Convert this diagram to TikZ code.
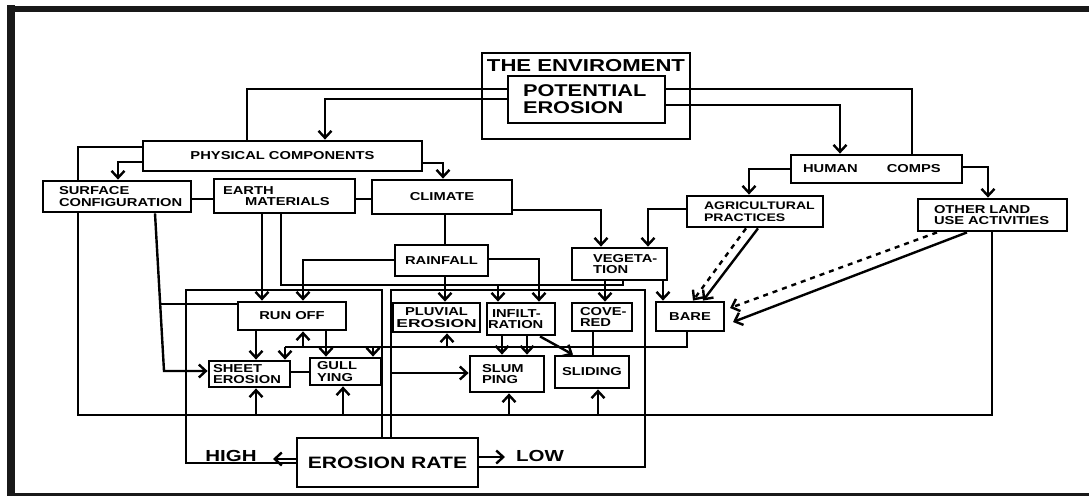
\documentclass[tikz,border=0pt]{standalone}
\usepackage{fontspec}
\newfontfamily\lab{Liberation Sans}[FakeStretch=1.28]
\usetikzlibrary{arrows.meta}
\pgfdeclarelayer{bg}
\pgfsetlayers{bg,main}
\newcommand\smlab{\lab\bfseries\fontsize{11.5}{11.5}\selectfont}
\newcommand\bglab{\lab\bfseries\fontsize{17.3}{17}\selectfont}
\begin{document}
\begin{tikzpicture}[x=1pt,y=-1pt,
  box/.style={draw, line width=2.8pt, fill=white, inner sep=0pt, font=\smlab},
  cb/.style 2 args={box, minimum width=#1pt, minimum height=#2pt, align=center},
  lb/.style 2 args={box, minimum width=#1pt, minimum height=#2pt, text width=#1pt, align=left},
  conn/.style={line width=2.4pt},
  arr/.style={conn, -{Straight Barb[length=7pt,width=13pt]}},
  dot/.style={dash pattern=on 5pt off 5pt},
  frame/.style={line width=#1, black!90},
]
\useasboundingbox (0,0) rectangle (1089,496);
% frame
\draw[frame=6pt] (7,9) -- (1089,9);
\draw[frame=8pt] (11,5) -- (11,496);
\draw[frame=3pt] (7,494.5) -- (1089,494.5);

% nodes
\node[draw, line width=2.8pt, minimum width=208pt, minimum height=86pt, inner sep=0pt] (env) at (586,96) {};
\node[font=\bglab, inner sep=0pt] (envt) at (586,66) {THE ENVIROMENT};
\node[lb={157}{47}, font=\lab\bfseries\fontsize{17}{17}\selectfont] (pe) at (586.5,99.5) {\hspace*{15pt}POTENTIAL\\\hspace*{15pt}EROSION};
\node[cb={279}{30}] (pc) at (282.5,156) {PHYSICAL COMPONENTS};
\node[lb={148}{31}] (sc) at (117,196.5) {\hspace*{16pt}SURFACE\\\hspace*{16pt}CONFIGURATION};
\node[lb={141}{34}] (em) at (284.5,196) {\hspace*{9pt}EARTH\\\hspace*{31pt}MATERIALS};
\node[cb={140}{34}] (cl) at (442,197) {CLIMATE};
\node[cb={93}{31}] (rf) at (441.5,260.5) {RAINFALL};
\node[lb={95}{32}] (veg) at (619.5,264) {\hspace*{21pt}VEGETA-\\\hspace*{21pt}TION};
\node[lb={171}{28}] (hc) at (876.5,169) {\hspace*{12pt}HUMAN\hspace{29pt}COMPS};
\node[lb={136}{31}, font=\lab\bfseries\fontsize{11}{11.5}\selectfont] (agri) at (755,211.5) {\hspace*{17pt}AGRICULTURAL\\\hspace*{17pt}PRACTICES};
\node[lb={149}{32}] (olu) at (992.5,215) {\hspace*{16pt}OTHER LAND\\\hspace*{16pt}USE ACTIVITIES};
\node[cb={68}{29}] (bare) at (690,316.5) {BARE};
\node[cb={108}{28}] (ro) at (292,316) {RUN OFF};
\node[cb={87}{29}] (pl) at (436.5,317.5) {PLUVIAL\\\scalebox{1.18}[1]{EROSION}};
\node[lb={68}{32}] (inf) at (521,319) {\hspace*{5pt}INFILT-\\\hspace*{1pt}RATION};
\node[lb={60}{28}] (cov) at (602,317) {\hspace*{8pt}COVE-\\\hspace*{8pt}RED};
\node[lb={81}{26}] (sh) at (249.5,374) {\hspace*{4pt}SHEET\\\hspace*{4pt}EROSION};
\node[lb={71}{27}] (gu) at (345.5,371.5) {\hspace*{7pt}GULL\\\hspace*{7pt}YING};
\node[lb={74}{36}] (sl) at (507,374) {\hspace*{12pt}SLUM\\\hspace*{12pt}PING};
\node[cb={74}{32}] (sd) at (592,372) {SLIDING};
\node[cb={181}{49}, font=\lab\bfseries\fontsize{16.5}{16.5}\selectfont] (er) at (387.5,462.5) {EROSION RATE};
\node[font=\lab\bfseries\fontsize{16}{16}\selectfont, inner sep=0pt] (high) at (231,456) {HIGH};
\node[font=\lab\bfseries\fontsize{16}{16}\selectfont, inner sep=0pt] (low) at (540,456) {LOW};

% named points
\coordinate (emv) at (623,285);
\coordinate (j1) at (498,285);
\coordinate (k1) at (164,371);
\coordinate (k2) at (160.2,304);
\coordinate (b1) at (285,347);
\coordinate (b2) at (303,347);
\coordinate (b3) at (373,347);
\coordinate (b4) at (447,347);
\coordinate (u1) at (256,415);
\coordinate (u2) at (343,415);
\coordinate (u3) at (509,415);
\coordinate (u4) at (598,415);
\coordinate (bt1) at (733,322);
\coordinate (bt2) at (730,308);
\coordinate (hi1) at (273,459);
\coordinate (lo1) at (505,457);
\coordinate (sv) at (391,373);

\begin{pgfonlayer}{bg}
\draw[conn] (pe.west |- 0,89) -| (pc.north -| 247,0);
\draw[arr] (pe.west |- 0,99) -| (pc.north -| 325,0);
\draw[conn] (pe.east |- 0,89) -| (hc.north -| 912,0);
\draw[arr] (pe.east |- 0,105) -| (hc.north -| 840,0);
\draw[conn] (pc.west |- 0,147) -| (78,415) -| (olu.south -| 992,0);
\draw[arr] (pc.west |- 0,162) -| (sc.north -| 118,0);
\draw[arr] (pc.east |- 0,163) -| (cl.north -| 443,0);
\draw[conn] (sc.east |- 0,199) -- (em.west |- 0,199);
\draw[conn] (em.east |- 0,199) -- (cl.west |- 0,199);
\draw[arr] (cl.east |- 0,210) -| (veg.north -| 601,0);
\draw[arr] (agri.west |- 0,209) -| (veg.north -| 648,0);
\draw[conn] (cl.south -| 445,0) -- (rf.north -| 445,0);
\draw[arr] (hc.west |- 0,169) -| (agri.north -| 749,0);
\draw[arr] (hc.east |- 0,167) -| (olu.north -| 988,0);
\draw[arr] (agri.south -| 758,0) -- (bare.north -| 703,0);
\draw[arr,dot] (agri.south -| 746,0) -- (bare.north -| 693,0);
\draw[arr] (olu.south -| 967,0) -- (bt1);
\draw[arr,dot] (olu.south -| 937,0) -- (bt2);
\draw[arr] (veg.south -| 663,0) -- (bare.north -| 663,0);
\draw[arr] (veg.south -| 605,0) -- (cov.north -| 605,0);
\draw[conn] (em.south -| 281,0) |- (emv) -- (veg.south -| emv);
\draw[arr] (j1) -- (inf.north -| j1);
\draw[arr] (em.south -| 262,0) -- (ro.north -| 262,0);
\draw[arr] (rf.west |- 0,260) -| (ro.north -| 303,0);
\draw[arr] (rf.south -| 445,0) -- (pl.north -| 445,0);
\draw[arr] (rf.east |- 0,259) -| (inf.north -| 539,0);
\draw[conn] (cov.south -| 593,0) -- (sd.north -| 593,0);
\draw[arr] (inf.south -| 502,0) -- (sl.north -| 502,0);
\draw[arr] (inf.south -| 527,0) -- (sl.north -| 527,0);
\draw[arr] (inf.south -| 540,0) -- (sd.north -| 573,0);
\draw[arr] (sc.south -| 155,0) -- (k1) -- (sh.west |- k1);
\draw[conn] (k2) -- (ro.west |- k2);
\draw[arr] (ro.south -| 256,0) -- (sh.north -| 256,0);
\draw[arr] (ro.south -| 326,0) -- (gu.north -| 326,0);
\draw[conn] (bare.south -| 687,0) |- (b1);
\draw[arr] (b1) -- (sh.north -| b1);
\draw[arr] (b2) -- (ro.south -| b2);
\draw[arr] (b3) -- (gu.north -| b3);
\draw[arr] (b4) -- (pl.south -| b4);
\draw[conn] (sh.east |- 0,372) -- (gu.west |- 0,372);
\draw[arr] (u1) -- (sh.south -| u1);
\draw[arr] (u2) -- (gu.south -| u2);
\draw[arr] (u3) -- (sl.south -| u3);
\draw[arr] (u4) -- (sd.south -| u4);
\draw[conn] (er.north -| 382,0) |- (186,290) |- (er.west |- 0,463);
\draw[conn] (er.north -| 391,0) |- (645,290) |- (er.east |- 0,467);
\draw[arr] (er.west |- hi1) -- (hi1);
\draw[arr] (er.east |- lo1) -- (lo1);
\draw[arr] (sv) -- (sl.west |- sv);
\end{pgfonlayer}
\end{tikzpicture}
\end{document}
